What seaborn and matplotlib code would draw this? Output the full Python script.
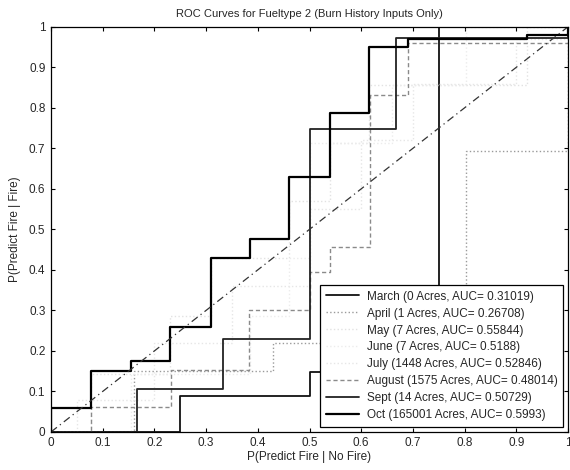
import matplotlib
matplotlib.use("Agg")
import matplotlib.pyplot as plt
import seaborn as sns
import pandas as pd

sns.set_style("ticks")
plt.rcParams["font.family"] = ["Liberation Sans", "DejaVu Sans"]
plt.rcParams["xtick.direction"] = "in"
plt.rcParams["ytick.direction"] = "in"

# ROC curves per month: false positive rate (fpr) vs true positive rate (tpr)
march_fpr = [0, 0.25, 0.25, 0.5, 0.5, 0.75, 0.75, 1]
march_tpr = [0, 0, 0.089, 0.089, 0.148, 0.148, 1, 1]

april_fpr = [0, 0.16, 0.16, 0.43, 0.43, 0.803, 0.803, 1, 1]
april_tpr = [0, 0, 0.15, 0.15, 0.22, 0.22, 0.694, 0.694, 1]

may_fpr = [0, 0.077, 0.077, 0.23, 0.23, 0.31, 0.31, 0.46, 0.46, 0.54, 0.54, 0.615, 0.615, 0.92, 0.92, 1]
may_tpr = [0, 0, 0.143, 0.143, 0.286, 0.286, 0.429, 0.429, 0.571, 0.571, 0.714, 0.714, 0.857, 0.857, 1, 1]

june_fpr = [0, 0.155, 0.155, 0.385, 0.385, 0.46, 0.46, 0.5, 0.5, 0.66, 0.66, 0.803, 0.803, 1]
june_tpr = [0, 0, 0.143, 0.143, 0.286, 0.286, 0.429, 0.429, 0.714, 0.714, 0.857, 0.857, 1, 1]

july_fpr = [0, 0.05, 0.05, 0.2, 0.2, 0.35, 0.35, 0.5, 0.5, 0.6, 0.6, 0.7, 0.7, 0.9, 0.9, 1, 1]
july_tpr = [0, 0, 0.08, 0.08, 0.22, 0.22, 0.36, 0.36, 0.55, 0.55, 0.72, 0.72, 0.86, 0.86, 0.97, 0.97, 1]

august_fpr = [0, 0.077, 0.077, 0.232, 0.232, 0.383, 0.383, 0.5, 0.5, 0.54, 0.54, 0.617, 0.617, 0.69, 0.69, 1, 1]
august_tpr = [0, 0, 0.062, 0.062, 0.153, 0.153, 0.3, 0.3, 0.395, 0.395, 0.457, 0.457, 0.832, 0.832, 0.96, 0.96, 1]

sept_fpr = [0, 0.166, 0.166, 0.333, 0.333, 0.5, 0.5, 0.667, 0.667, 1, 1]
sept_tpr = [0, 0, 0.105, 0.105, 0.23, 0.23, 0.748, 0.748, 0.973, 0.973, 1]

oct_fpr = [0, 0, 0.077, 0.077, 0.155, 0.155, 0.23, 0.23, 0.31, 0.31, 0.385, 0.385, 0.46, 0.46,
           0.54, 0.54, 0.615, 0.615, 0.69, 0.69, 0.92, 0.92, 1, 1]
oct_tpr = [0, 0.06, 0.06, 0.15, 0.15, 0.175, 0.175, 0.26, 0.26, 0.43, 0.43, 0.475, 0.475, 0.63,
           0.63, 0.788, 0.788, 0.95, 0.95, 0.97, 0.97, 0.98, 0.98, 1]

labels = [
    "March (0 Acres, AUC= 0.31019)",
    "April (1 Acres, AUC= 0.26708)",
    "May (7 Acres, AUC= 0.55844)",
    "June (7 Acres, AUC= 0.5188)",
    "July (1448 Acres, AUC= 0.52846)",
    "August (1575 Acres, AUC= 0.48014)",
    "Sept (14 Acres, AUC= 0.50729)",
    "Oct (165001 Acres, AUC= 0.5993)",
]
curves = [
    (march_fpr, march_tpr), (april_fpr, april_tpr), (may_fpr, may_tpr),
    (june_fpr, june_tpr), (july_fpr, july_tpr), (august_fpr, august_tpr),
    (sept_fpr, sept_tpr), (oct_fpr, oct_tpr),
]
styles = [
    dict(color="#111111", linestyle="-", linewidth=1.3),
    dict(color="#9a9a9a", linestyle=":", linewidth=1.0),
    dict(color="#e2e2e2", linestyle=":", linewidth=1.0),
    dict(color="#ececec", linestyle=":", linewidth=1.0),
    dict(color="#e6e6e6", linestyle=":", linewidth=1.0),
    dict(color="#8a8a8a", linestyle=(0, (3, 2)), linewidth=1.0),
    dict(color="#222222", linestyle="-", linewidth=1.3),
    dict(color="#000000", linestyle="-", linewidth=1.6),
]

chance = [0, 1]

fig = plt.figure(figsize=(5.7, 4.7), dpi=100)
ax = fig.add_axes([0.0895, 0.081, 0.907, 0.862])

for (fpr, tpr), lab, st in zip(curves, labels, styles):
    df = pd.DataFrame({"fpr": fpr, "tpr": tpr})
    sns.lineplot(data=df, x="fpr", y="tpr", sort=False, estimator=None,
                 ax=ax, label=lab, **st)

sns.lineplot(x=chance, y=chance, sort=False, estimator=None, ax=ax,
             color="#333333", linestyle=(0, (6, 3, 1, 3)), linewidth=0.9,
             legend=False)

ax.set_xlim(0, 1)
ax.set_ylim(0, 1)
ticks = [i / 10 for i in range(11)]
ticklabels = ["0"] + [f"0.{i}" for i in range(1, 10)] + ["1"]
ax.set_xticks(ticks)
ax.set_xticklabels(ticklabels)
ax.set_yticks(ticks)
ax.set_yticklabels(ticklabels)
ax.tick_params(axis="both", labelsize=8.5, length=3, width=0.8, color="black",
               top=True, right=True, pad=4)
for sp in ax.spines.values():
    sp.set_visible(True)
    sp.set_color("black")
    sp.set_linewidth(0.9)

ax.set_title("ROC Curves for Fueltype 2 (Burn History Inputs Only)", fontsize=8, pad=7)
ax.set_xlabel("P(Predict Fire | No Fire)", fontsize=8.5, labelpad=1)
ax.set_ylabel("P(Predict Fire | Fire)", fontsize=8.5, labelpad=6)

leg = ax.legend(loc="lower right", fontsize=8.5, frameon=True, fancybox=False,
                framealpha=1, edgecolor="black", handlelength=2.8,
                labelspacing=0.42, borderaxespad=0.4, borderpad=0.5,
                handletextpad=0.6)
leg.get_frame().set_linewidth(0.9)

fig.savefig("out.png", dpi=100)
